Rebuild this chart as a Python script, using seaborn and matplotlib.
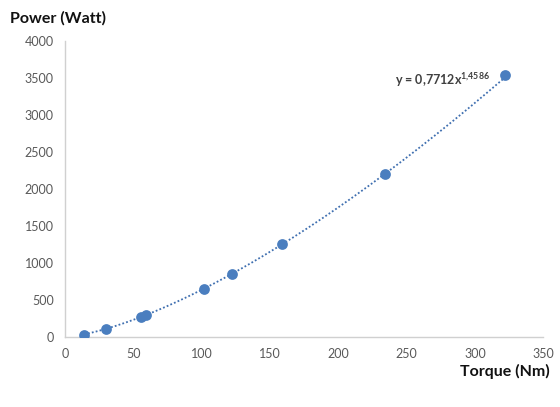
import numpy as np
import pandas as pd
import matplotlib.pyplot as plt
import seaborn as sns

torque = [14, 30, 56, 59, 102, 122, 159, 234, 322]
power = [30, 110, 275, 300, 650, 850, 1255, 2210, 3540]

# power-law trendline shown on the chart
coef_a = 0.7712
coef_b = 1.4586

x_ticks = [0, 50, 100, 150, 200, 250, 300, 350]
y_ticks = [0, 500, 1000, 1500, 2000, 2500, 3000, 3500, 4000]

sns.set_theme(style="white")
plt.rcParams['font.family'] = ['Lato', 'DejaVu Sans']
plt.rcParams['mathtext.fontset'] = 'custom'
plt.rcParams['mathtext.rm'] = 'Lato'

df = pd.DataFrame({'Torque': torque, 'Power': power})
xs = np.linspace(min(torque), max(torque), 200)
trend = pd.DataFrame({'Torque': xs, 'Power': coef_a * xs ** coef_b})

fig = plt.figure(figsize=(5.6, 4.07), dpi=100)
ax = fig.add_axes([0.116, 0.172, 0.854, 0.727])

blue = '#4a7ebf'
sns.lineplot(data=trend, x='Torque', y='Power', ax=ax, color='#3f6fb0',
             linestyle=(0, (1, 1.2)), linewidth=1.3)
sns.scatterplot(data=df, x='Torque', y='Power', ax=ax, color=blue,
                s=60, edgecolor=blue, linewidth=0, zorder=3)

ax.set_xlim(0, 350)
ax.set_ylim(0, 4000)
ax.set_xticks(x_ticks)
ax.set_yticks(y_ticks)
ax.tick_params(axis='both', length=0, labelsize=9, labelcolor='#595959', pad=8)
ax.set_xlabel('')
ax.set_ylabel('')

for side in ['top', 'right']:
    ax.spines[side].set_visible(False)
for side in ['left', 'bottom']:
    ax.spines[side].set_color('#d0d0d0')
    ax.spines[side].set_linewidth(1)

fig.text(0.018, 0.955, 'Power (Watt)', fontsize=11.5, fontweight='bold',
         color='#111111', ha='left', va='center')
fig.text(0.982, 0.088, 'Torque (Nm)', fontsize=11.5, fontweight='bold',
         color='#111111', ha='right', va='center')

ax.text(0.875, 0.803, r'y = 0,7712x$^{\mathregular{1{,}4586}}$',
        transform=fig.transFigure, fontsize=9, fontweight='bold',
        color='#404040', ha='right', va='center')

fig.savefig('out.png', dpi=100)
